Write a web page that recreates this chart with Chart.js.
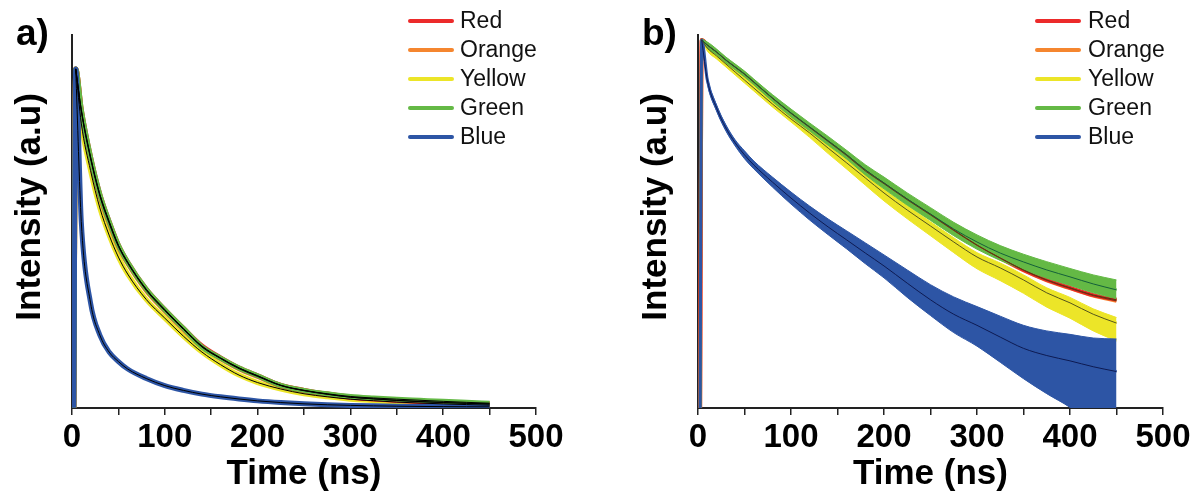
<!DOCTYPE html>
<html>
<head>
<meta charset="utf-8">
<script src="https://cdn.jsdelivr.net/npm/chart.js@4.4.0/dist/chart.umd.min.js"></script>
<style>
    body { margin: 0; width: 1200px; height: 495px; background: #fff; position: relative; overflow: hidden; font-family: 'Liberation Sans', Arial, sans-serif; }
    .panel { position: absolute; top: 0; width: 600px; height: 495px; }
    #panelA { left: 0; }
    #panelB { left: 600px; }
    .tag { position: absolute; font-weight: bold; font-size: 37px; line-height: 37px; color: #000; }
    .leg-line { position: absolute; width: 46px; height: 4px; border-radius: 2px; }
    .leg-text { position: absolute; font-size: 23px; line-height: 29px; height: 29px; color: #111; }
</style>
</head>
<body>
<div class="panel" id="panelA"><canvas id="chartA" width="600" height="495"></canvas></div>
<div class="panel" id="panelB"><canvas id="chartB" width="600" height="495"></canvas></div>
<div class="tag" style="left:16px;top:14px">a)</div>
<div class="tag" style="left:642px;top:14px">b)</div>
<div id="legends"></div>
<script>
const times = [2, 4, 10, 20, 30, 40, 50, 60, 80, 100, 120, 140, 160, 180, 200, 225, 250, 275, 300, 325, 350, 375, 400, 425, 450];
const xTickLabels = [0, 100, 200, 300, 400, 500];

const seriesNames = ['Red', 'Orange', 'Yellow', 'Green', 'Blue'];
const seriesColors = ['#ec2a2a', '#f5862f', '#ece528', '#64b945', '#2d55a5'];
const fitColorsB = ['#6a2410', '#6a3510', '#55551c', '#14603a', '#0d1a52'];

// panel a
const redA = [0.0005, 1.0, 0.88, 0.74, 0.63, 0.55, 0.48, 0.43, 0.35, 0.29, 0.235, 0.183, 0.148, 0.118, 0.095, 0.067, 0.052, 0.041, 0.032, 0.027, 0.0225, 0.019, 0.0162, 0.014, 0.012];
const orangeA = [0.0005, 1.0, 0.875, 0.735, 0.625, 0.545, 0.476, 0.427, 0.347, 0.287, 0.232, 0.181, 0.146, 0.116, 0.093, 0.066, 0.051, 0.0405, 0.0318, 0.0268, 0.0222, 0.0188, 0.016, 0.0138, 0.0118];
const yellowA = [0.0005, 1.0, 0.84, 0.7, 0.59, 0.51, 0.445, 0.395, 0.32, 0.265, 0.212, 0.165, 0.128, 0.097, 0.075, 0.056, 0.042, 0.033, 0.026, 0.0215, 0.0175, 0.0145, 0.0122, 0.0101, 0.0083];
const greenA = [0.0005, 1.0, 0.88, 0.74, 0.63, 0.55, 0.48, 0.43, 0.35, 0.29, 0.235, 0.18, 0.147, 0.118, 0.095, 0.067, 0.052, 0.042, 0.034, 0.0295, 0.026, 0.0228, 0.0196, 0.0167, 0.0142];
const blueA = [0.0005, 1.0, 0.55, 0.31, 0.215, 0.165, 0.137, 0.115, 0.087, 0.066, 0.052, 0.041, 0.033, 0.0265, 0.021, 0.016, 0.0123, 0.0096, 0.0077, 0.0063, 0.0053, 0.0046, 0.0041, 0.0037, 0.0034];

// panel b (trace centres)
const redB = [0.0005, 1.0, 0.918, 0.815, 0.711, 0.631, 0.56, 0.489, 0.372, 0.288, 0.227, 0.179, 0.141, 0.109, 0.0873, 0.0664, 0.0512, 0.0392, 0.0303, 0.0243, 0.0198, 0.0167, 0.0146, 0.0129, 0.0119];
const orangeB = [0.0005, 1.0, 0.915, 0.812, 0.708, 0.628, 0.557, 0.486, 0.37, 0.286, 0.225, 0.177, 0.139, 0.107, 0.0862, 0.0655, 0.0506, 0.0388, 0.0301, 0.0242, 0.0197, 0.0166, 0.0145, 0.0128, 0.0117];
const yellowB = [0.0005, 1.0, 0.872, 0.761, 0.664, 0.579, 0.505, 0.441, 0.336, 0.26, 0.205, 0.158, 0.1227, 0.095, 0.0736, 0.055, 0.0419, 0.0319, 0.0247, 0.0205, 0.0167, 0.0134, 0.0113, 0.0093, 0.008];
const greenB = [0.0005, 1.0, 0.918, 0.815, 0.711, 0.631, 0.56, 0.489, 0.372, 0.288, 0.227, 0.179, 0.141, 0.109, 0.0873, 0.0664, 0.0514, 0.0398, 0.0319, 0.0264, 0.0227, 0.0198, 0.0176, 0.0156, 0.0141];
const blueB = [0.0005, 1.0, 0.505, 0.313, 0.223, 0.173, 0.141, 0.1186, 0.0887, 0.0675, 0.0523, 0.0412, 0.033, 0.0264, 0.0212, 0.0158, 0.0119, 0.0093, 0.0077, 0.0063, 0.0052, 0.0046, 0.0042, 0.0038, 0.0035];

// panel b, upper / lower edges of the noise
const greenHiB = [0.0005, 1.0, 0.966, 0.857, 0.748, 0.664, 0.589, 0.514, 0.394, 0.308, 0.243, 0.193, 0.152, 0.119, 0.0965, 0.0737, 0.0573, 0.0446, 0.036, 0.03, 0.0259, 0.0228, 0.0203, 0.0182, 0.0167];
const greenLoB = [0.0005, 1.0, 0.873, 0.775, 0.676, 0.6, 0.532, 0.465, 0.351, 0.269, 0.212, 0.166, 0.131, 0.1, 0.079, 0.0598, 0.0461, 0.0355, 0.0282, 0.0233, 0.0199, 0.0172, 0.0152, 0.0134, 0.0121];
const yellowHiB = [0.0005, 1.0, 0.917, 0.801, 0.699, 0.609, 0.531, 0.464, 0.353, 0.274, 0.217, 0.167, 0.13, 0.1007, 0.078, 0.0591, 0.045, 0.0343, 0.0266, 0.0223, 0.0182, 0.0146, 0.0124, 0.0102, 0.0088];
const yellowLoB = [0.0005, 1.0, 0.829, 0.723, 0.631, 0.55, 0.48, 0.419, 0.319, 0.247, 0.19, 0.144, 0.1105, 0.0841, 0.0643, 0.0474, 0.0355, 0.0266, 0.0202, 0.0165, 0.0133, 0.0105, 0.0087, 0.007, 0.0059];
const blueHiB = [0.0005, 1.0, 0.531, 0.329, 0.235, 0.182, 0.151, 0.127, 0.0966, 0.0748, 0.0589, 0.0472, 0.0385, 0.0314, 0.0256, 0.0198, 0.0154, 0.0125, 0.0106, 0.009, 0.0077, 0.007, 0.0066, 0.0062, 0.0061];
const blueLoB = [0.0005, 1.0, 0.48, 0.298, 0.212, 0.164, 0.132, 0.111, 0.0815, 0.0609, 0.0464, 0.0361, 0.0283, 0.022, 0.0173, 0.0124, 0.0091, 0.0068, 0.0054, 0.0041, 0.0031, 0.0024, 0.0019, 0.0014, 0.001];

const FONT = "'Liberation Sans', Arial, sans-serif";
const seriesA = [redA, orangeA, yellowA, greenA, blueA];
const seriesB = [redB, orangeB, yellowB, greenB, blueB];

function pts(arr, from) {
    const start = from || 0;
    return arr.slice(start).map((v, i) => ({ x: times[i + start], y: v }));
}

function line(arr, color, width, extra) {
    return Object.assign({
        data: pts(arr),
        borderColor: color,
        backgroundColor: color,
        borderWidth: width,
        pointRadius: 0,
        fill: false,
        cubicInterpolationMode: 'monotone'
    }, extra || {});
}

function fitLine(arr, color) {
    return line(arr, color, 1, { data: pts(arr, 1) });
}

function band(hi, lo, color) {
    return [
        line(hi, color, 1, { fill: '+1' }),
        line(lo, color, 1)
    ];
}

function buildOptions(cfg) {
    return {
        responsive: false,
        animation: false,
        events: [],
        layout: { padding: { top: 35, right: cfg.padRight, left: 0, bottom: 0 } },
        plugins: { legend: { display: false }, tooltip: { enabled: false } },
        scales: {
            x: {
                type: 'linear',
                min: 0,
                max: 500,
                afterFit: (scale) => { scale.height = 87; },
                ticks: {
                    stepSize: 50,
                    autoSkip: false,
                    maxRotation: 0,
                    padding: 3,
                    color: '#000',
                    font: { family: FONT, size: 33, weight: 'bold' },
                    callback: (v) => xTickLabels.includes(v) ? String(v) : ''
                },
                grid: { drawOnChartArea: false, drawTicks: true, tickLength: 7, color: '#222', lineWidth: 1.5 },
                border: { display: true, color: '#222', width: 2 },
                title: {
                    display: true,
                    text: 'Time (ns)',
                    color: '#000',
                    font: { family: FONT, size: 35, weight: 'bold', lineHeight: 1.2 },
                    padding: { top: 0, bottom: 0 }
                }
            },
            y: {
                type: cfg.yType,
                min: cfg.yMin,
                max: cfg.yMax,
                afterFit: (scale) => { scale.width = cfg.yWidth; },
                ticks: { display: false },
                grid: { display: false },
                border: { display: true, color: '#222', width: 2 },
                title: {
                    display: true,
                    // leading spaces nudge the rotated label up to where the original sits
                    text: '   Intensity (a.u)',
                    color: '#000',
                    font: { family: FONT, size: 35, weight: 'bold', lineHeight: 1.2 },
                    padding: { top: cfg.titlePad, bottom: 0 }
                }
            }
        }
    };
}

// panel a: linear scale, traces drawn as thick lines with black fits on top
const datasetsA = [];
[4, 3, 2, 1, 0].forEach(i => datasetsA.push(fitLine(seriesA[i], '#000')));
datasetsA.push(line(blueA, seriesColors[4], 5));
datasetsA.push(line(greenA, seriesColors[3], 5));
datasetsA.push(line(redA, seriesColors[0], 5));
datasetsA.push(line(orangeA, seriesColors[1], 5));
datasetsA.push(line(yellowA, seriesColors[2], 5));

new Chart(document.getElementById('chartA'), {
    type: 'line',
    data: { datasets: datasetsA },
    options: buildOptions({ yType: 'linear', yMin: 0, yMax: 1.1, yWidth: 72, titlePad: 9, padRight: 64 })
});

// panel b: logarithmic scale with noise envelopes
const datasetsB = [];
[4, 3, 2, 1, 0].forEach(i => datasetsB.push(fitLine(seriesB[i], fitColorsB[i])));
datasetsB.push(line(blueB, seriesColors[4], 3));
datasetsB.push(...band(blueHiB, blueLoB, seriesColors[4]));
datasetsB.push(line(greenB, seriesColors[3], 3));
datasetsB.push(...band(greenHiB, greenLoB, seriesColors[3]));
datasetsB.push(line(redB, seriesColors[0], 4));
datasetsB.push(line(orangeB, seriesColors[1], 4));
datasetsB.push(line(yellowB, seriesColors[2], 3));
datasetsB.push(...band(yellowHiB, yellowLoB, seriesColors[2]));

new Chart(document.getElementById('chartB'), {
    type: 'line',
    data: { datasets: datasetsB },
    options: buildOptions({ yType: 'logarithmic', yMin: 0.00188, yMax: 1.089, yWidth: 98, titlePad: 35, padRight: 37 })
});

// legends inside each plot
function addLegend(lineLeft, textLeft) {
    const holder = document.getElementById('legends');
    seriesNames.forEach((name, i) => {
        const yc = 20.5 + i * 29;
        const l = document.createElement('div');
        l.className = 'leg-line';
        l.style.left = lineLeft + 'px';
        l.style.top = (yc - 2) + 'px';
        l.style.background = seriesColors[i];
        holder.appendChild(l);
        const t = document.createElement('div');
        t.className = 'leg-text';
        t.style.left = textLeft + 'px';
        t.style.top = (yc - 14.5) + 'px';
        t.textContent = name;
        holder.appendChild(t);
    });
}
addLegend(408, 460);
addLegend(1035, 1088);
</script>
</body>
</html>
